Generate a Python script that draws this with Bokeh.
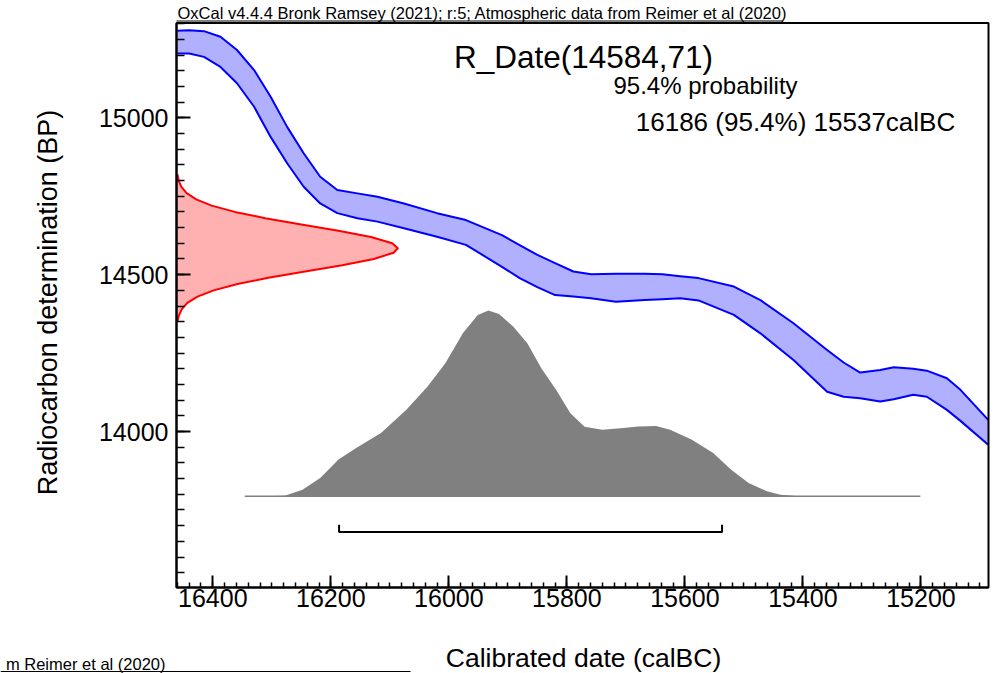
import math
from bokeh.plotting import figure
from bokeh.models import Range1d, SingleIntervalTicker, Label
from bokeh.embed import file_html
from bokeh.resources import INLINE

FONT = "Liberation Sans"

# ---------------- data ----------------
# calibration curve band (calBC, upper and lower edge in BP)
cal_years = [16460, 16440, 16415, 16387, 16359, 16330, 16302, 16274, 16246, 16218,
             16189, 16155, 16121, 16076, 16020, 15971, 15910, 15880, 15850, 15820,
             15789, 15759, 15717, 15668, 15638, 15608, 15577, 15517, 15472, 15416,
             15359, 15331, 15303, 15269, 15246, 15213, 15190, 15156, 15133, 15086]
curve_upper = [15277, 15279, 15276, 15258, 15216, 15152, 15067, 14971, 14887, 14812,
               14770, 14759, 14748, 14727, 14696, 14674, 14626, 14594, 14563, 14537,
               14510, 14501, 14503, 14503, 14501, 14495, 14489, 14462, 14419, 14345,
               14260, 14220, 14188, 14196, 14205, 14200, 14194, 14170, 14133, 14037]
curve_lower = [15205, 15205, 15194, 15162, 15110, 15035, 14939, 14855, 14780, 14727,
               14696, 14680, 14669, 14648, 14621, 14595, 14525, 14489, 14460, 14435,
               14430, 14425, 14414, 14419, 14422, 14425, 14418, 14372, 14313, 14228,
               14127, 14111, 14106, 14096, 14103, 14117, 14111, 14069, 14034, 13958]

# radiocarbon determination R_Date(14584,71): relative probability by BP
r_bp = [14820, 14800, 14780, 14760, 14740, 14720, 14700, 14680, 14660, 14640,
        14620, 14600, 14584, 14570, 14550, 14530, 14510, 14490, 14470, 14450,
        14430, 14410, 14390, 14370, 14350]
r_prob = [0.004, 0.010, 0.022, 0.046, 0.089, 0.159, 0.264, 0.401, 0.564, 0.732,
          0.879, 0.975, 1.000, 0.981, 0.892, 0.749, 0.581, 0.415, 0.276, 0.168,
          0.095, 0.049, 0.024, 0.011, 0.004]

# calibrated distribution (calBC, relative probability)
post_years = [16346, 16300, 16278, 16248, 16218, 16187, 16157, 16115, 16072, 16036,
              16006, 15976, 15951, 15933, 15915, 15891, 15867, 15843, 15818, 15794,
              15770, 15740, 15709, 15679, 15649, 15625, 15588, 15552, 15522, 15492,
              15461, 15438, 15405, 15201]
post_prob = [0.0, 0.001, 0.003, 0.035, 0.098, 0.197, 0.259, 0.340, 0.465, 0.591,
             0.716, 0.878, 0.976, 1.0, 0.981, 0.913, 0.823, 0.688, 0.572, 0.446,
             0.374, 0.357, 0.366, 0.375, 0.378, 0.357, 0.304, 0.233, 0.143, 0.071,
             0.026, 0.008, 0.0, 0.0]

# 95.4% range
range_from = 16186
range_to = 15537

x_ticks_interval = 200
y_ticks_interval = 500

# ---------------- layout constants ----------------
W, H = 1005, 673
# plot box in data units and where it sits on the canvas (pixels)
box_x0, box_x1 = 16461.5, 15085.5
box_y0, box_y1 = 13503, 15302
box_left, box_right, box_top, box_bottom = 176, 988, 22.5, 587

ppx = (box_right - box_left) / (box_x0 - box_x1)       # px per year
ppy = (box_bottom - box_top) / (box_y1 - box_y0)       # px per BP
xr = Range1d(box_x0 + box_left / ppx, box_x1 - (W - box_right) / ppx)
yr = Range1d(box_y0 - (H - box_bottom) / ppy, box_y1 + box_top / ppy)

def dx(px):  # canvas pixel x -> data
    return xr.start - px / ppx

def dy(py):  # canvas pixel y -> data
    return yr.end - py / ppy

red_span = 375        # years for peak of red curve
post_base = 13794     # BP baseline for calibrated distribution
post_span = 592       # BP height of its peak
bar_y, bar_top = 13680, 13703

p = figure(width=W, height=H, output_backend="svg", toolbar_location=None,
           x_range=xr, y_range=yr, min_border=0,
           background_fill_color="white", border_fill_color="white")

p.xgrid.grid_line_color = None
p.ygrid.grid_line_color = None
p.outline_line_color = None

# calibration band
p.patch(cal_years + cal_years[::-1], curve_upper + curve_lower[::-1],
        fill_color="#b0b0ff", line_color=None)
p.line(cal_years, curve_upper, line_color="#0000ff", line_width=2, line_join="round")
p.line(cal_years, curve_lower, line_color="#0000ff", line_width=2, line_join="round")

# radiocarbon date (red)
red_x = [box_x0 - v * red_span for v in r_prob]
p.harea(y=r_bp, x1=[box_x0] * len(r_bp), x2=red_x, fill_color="#ffb0b0")
p.line(red_x, r_bp, line_color="#ff0000", line_width=2, line_join="round")

# calibrated distribution (grey)
post_y = [post_base + v * post_span for v in post_prob]
p.varea(x=post_years, y1=[post_base] * len(post_years), y2=post_y, fill_color="#808080")
p.line([post_years[0], post_years[-1]], [post_base, post_base],
       line_color="#808080", line_width=1.5)

# range bar
p.line([range_from, range_from, range_to, range_to], [bar_top, bar_y, bar_y, bar_top],
       line_color="black", line_width=2)

# plot box
p.quad(left=[box_x0], right=[box_x1], bottom=[box_y0], top=[box_y1],
       fill_color=None, line_color="black", line_width=2)

# axes fixed on the box edges
p.xaxis.fixed_location = box_y0
p.yaxis.fixed_location = box_x0
p.xaxis.bounds = (box_x1, box_x0)
p.yaxis.bounds = (box_y0, box_y1)
for ax in (p.xaxis, p.yaxis):
    ax.axis_line_color = "black"
    ax.axis_line_width = 2
    ax.major_tick_out = 0
    ax.minor_tick_out = 0
    ax.major_tick_line_color = "black"
    ax.minor_tick_line_color = "black"
    ax.major_tick_line_width = 2
    ax.minor_tick_line_width = 1.5
    ax.major_label_text_font = FONT
    ax.major_label_text_font_size = "25px"
    ax.major_label_text_color = "black"

p.xaxis.ticker = SingleIntervalTicker(interval=x_ticks_interval, num_minor_ticks=10)
p.yaxis.ticker = SingleIntervalTicker(interval=y_ticks_interval, num_minor_ticks=10)
p.xaxis.major_tick_in = 12
p.xaxis.minor_tick_in = 5
p.yaxis.major_tick_in = 14
p.yaxis.minor_tick_in = 8
p.xaxis.major_label_standoff = 1
p.yaxis.major_label_standoff = 8

# texts
def lab(px, py, text, size, align="center", baseline="alphabetic", angle=0):
    p.add_layout(Label(x=dx(px), y=dy(py), text=text, text_font=FONT, text_font_size=size,
                       text_color="black", text_align=align, text_baseline=baseline,
                       angle=angle))

lab(583, 56, "R_Date(14584,71)", "31.5px")
lab(705, 85, "95.4% probability", "24px")
lab(795, 121, "16186 (95.4%) 15537calBC", "26px")
lab(583, 657, "Calibrated date (calBC)", "26.5px", baseline="middle")
lab(47, 302, "Radiocarbon determination (BP)", "27px", baseline="middle", angle=math.pi / 2)
lab(177, 12.5, "OxCal v4.4.4 Bronk Ramsey (2021); r:5; Atmospheric data from Reimer et al (2020)",
    "16.5px", align="left", baseline="middle")
lab(165, 663, "m Reimer et al (2020)", "16.5px", align="right", baseline="middle")

# underlines
p.line([dx(176), dx(782)], [dy(20.5), dy(20.5)], line_color="black", line_width=1)
p.line([dx(0), dx(410)], [dy(671), dy(671)], line_color="black", line_width=1)

open("out.html", "w").write(file_html(p, INLINE))
